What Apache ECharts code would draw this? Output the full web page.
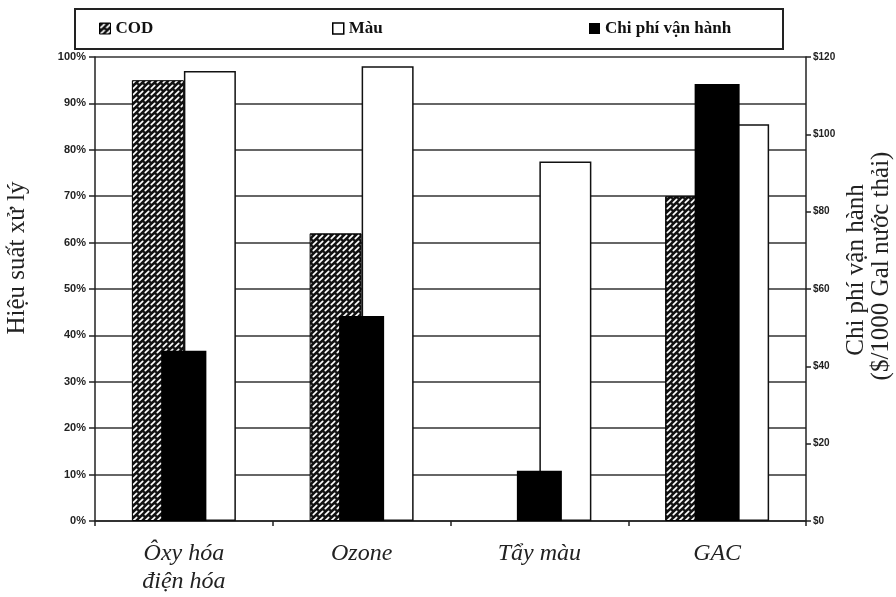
<!DOCTYPE html>
<html>
<head>
<meta charset="utf-8">
<script src="https://cdn.jsdelivr.net/npm/echarts@6/dist/echarts.min.js"></script>
<style>html,body{margin:0;padding:0;background:#fff;}#c{width:896px;height:597px;}</style>
</head>
<body>
<div id="c"></div>
<script>
const categories = ['Ôxy hóa\nđiện hóa', 'Ozone', 'Tẩy màu', 'GAC'];
const codValues = [95, 62, null, 70];
const colorValues = [97, 98, 77.5, 85.5];
const costValues = [44, 53, 13, 113];
const seriesNames = ['COD', 'Màu', 'Chi phí vận hành'];
const leftAxisTitle = 'Hiệu suất xử lý';
const rightAxisTitle1 = 'Chi phí vận hành';
const rightAxisTitle2 = '($/1000 Gal nước thải)';

// hatch pattern
const pc = document.createElement('canvas');
pc.width = 6; pc.height = 6;
const g = pc.getContext('2d');
g.fillStyle = '#111'; g.fillRect(0, 0, 6, 6);
g.strokeStyle = '#fff'; g.lineWidth = 1.7; g.lineCap = 'round';
g.beginPath(); g.moveTo(1.3, 4.7); g.lineTo(4.7, 1.3); g.stroke();
const hatch = { image: pc, repeat: 'repeat' };

const chart = echarts.init(document.getElementById('c'), null, { renderer: 'canvas' });
const serif = '"Liberation Serif", "DejaVu Serif", serif';
const sans = '"Liberation Sans", Arial, sans-serif';
const legendText = { fontFamily: serif, fontWeight: 'bold', fontSize: 17, color: '#111' };
const legendCommon = { top: 20, itemWidth: 11, itemHeight: 11, itemGap: 4, icon: 'rect', textStyle: legendText, padding: 0 };

chart.setOption({
  animation: false,
  backgroundColor: '#fff',
  grid: { left: 95, right: 90, top: 57, bottom: 76, containLabel: false },
  legend: [
    Object.assign({ left: 99, data: [{ name: seriesNames[0], itemStyle: { color: hatch, borderColor: '#000', borderWidth: 1 } }] }, legendCommon),
    Object.assign({ left: 332, data: [{ name: seriesNames[1], itemStyle: { color: '#fff', borderColor: '#000', borderWidth: 1.5 } }] }, legendCommon),
    Object.assign({ left: 589, data: [{ name: seriesNames[2], itemStyle: { color: '#000' } }] }, legendCommon)
  ],
  graphic: [
    { type: 'rect', shape: { x: 75, y: 9, width: 708, height: 40 }, style: { fill: 'none', stroke: '#222', lineWidth: 2 }, z: 10 },
    { type: 'text', x: 17, y: 258, rotation: Math.PI / 2, style: { text: leftAxisTitle, font: '25px ' + serif, fill: '#222', textAlign: 'center', textVerticalAlign: 'middle' } },
    { type: 'text', x: 856, y: 270, rotation: Math.PI / 2, style: { text: rightAxisTitle1, font: '25px ' + serif, fill: '#222', textAlign: 'center', textVerticalAlign: 'middle' } },
    { type: 'text', x: 881, y: 266, rotation: Math.PI / 2, style: { text: rightAxisTitle2, font: '25px ' + serif, fill: '#222', textAlign: 'center', textVerticalAlign: 'middle' } }
  ],
  xAxis: [
    {
      type: 'category', data: categories,
      axisLine: { lineStyle: { color: '#222', width: 1.5 } },
      axisTick: { show: true, length: 5, lineStyle: { color: '#222', width: 1.5 } },
      axisLabel: { fontFamily: serif, fontStyle: 'italic', fontSize: 24, color: '#222', margin: 19, lineHeight: 28 },
      splitLine: { show: false }
    },
    { type: 'category', data: categories, show: false }
  ],
  yAxis: [
    {
      type: 'value', min: 0, max: 100, interval: 10, position: 'left',
      axisLine: { show: true, lineStyle: { color: '#222', width: 1.5 } },
      axisTick: { show: true, length: 6, lineStyle: { color: '#222', width: 1.5 } },
      axisLabel: { formatter: '{value}%', fontFamily: sans, fontWeight: 'bold', fontSize: 11, color: '#222', margin: 9 },
      splitLine: { show: true, lineStyle: { color: '#333', width: 1.5 } }
    },
    {
      type: 'value', min: 0, max: 120, interval: 20, position: 'right',
      axisLine: { show: true, lineStyle: { color: '#222', width: 1.5 } },
      axisTick: { show: true, length: 5, lineStyle: { color: '#222', width: 1.5 } },
      axisLabel: { formatter: '${value}', fontFamily: sans, fontWeight: 'bold', fontSize: 10, color: '#222', margin: 7 },
      splitLine: { show: false }
    }
  ],
  series: [
    { name: seriesNames[0], type: 'bar', xAxisIndex: 0, yAxisIndex: 0, data: codValues, barWidth: 52, barGap: '0%',
      itemStyle: { color: hatch, borderColor: '#000', borderWidth: 1 }, z: 2 },
    { name: seriesNames[1], type: 'bar', xAxisIndex: 0, yAxisIndex: 0, data: colorValues, barWidth: 52, barGap: '0%',
      itemStyle: { color: '#fff', borderColor: '#111', borderWidth: 1.5 }, z: 2 },
    { name: seriesNames[2], type: 'bar', xAxisIndex: 1, yAxisIndex: 1, data: costValues, barWidth: 45,
      itemStyle: { color: '#000' }, z: 3 }
  ]
});
</script>
</body>
</html>
